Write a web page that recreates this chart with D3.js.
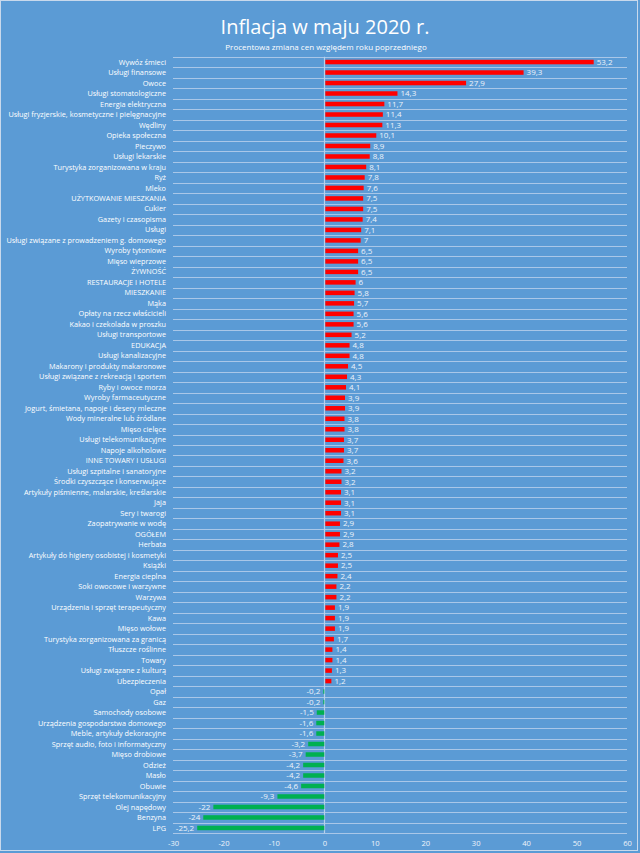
<!DOCTYPE html>
<html>
<head>
<meta charset="utf-8">
<script src="https://cdn.jsdelivr.net/npm/d3@7"></script>
<style>
  body { margin: 0; background: #5b9bd5; }
  svg { display: block; font-family: "Open Sans", "Noto Sans", sans-serif; }
</style>
</head>
<body>
<div id="chart"></div>
<script>
let categories = [
	"Wywóz śmieci", "Usługi finansowe", "Owoce", "Usługi stomatologiczne", "Energia elektryczna",
	"Usługi fryzjerskie, kosmetyczne i pielęgnacyjne", "Wędliny", "Opieka społeczna", "Pieczywo", "Usługi lekarskie",
	"Turystyka zorganizowana w kraju", "Ryż", "Mleko", "UŻYTKOWANIE MIESZKANIA", "Cukier",
	"Gazety i czasopisma", "Usługi", "Usługi związane z prowadzeniem g. domowego", "Wyroby tytoniowe", "Mięso wieprzowe",
	"ŻYWNOŚĆ", "RESTAURACJE I HOTELE", "MIESZKANIE", "Mąka", "Opłaty na rzecz właścicieli",
	"Kakao i czekolada w proszku", "Usługi transportowe", "EDUKACJA", "Usługi kanalizacyjne", "Makarony i produkty makaronowe",
	"Usługi związane z rekreacją i sportem", "Ryby i owoce morza", "Wyroby farmaceutyczne", "Jogurt, śmietana, napoje i desery mleczne", "Wody mineralne lub źródlane",
	"Mięso cielęce", "Usługi telekomunikacyjne", "Napoje alkoholowe", "INNE TOWARY I USŁUGI", "Usługi szpitalne i sanatoryjne",
	"Środki czyszczące i konserwujące", "Artykuły piśmienne, malarskie, kreślarskie", "Jaja", "Sery i twarogi", "Zaopatrywanie w wodę",
	"OGÓŁEM", "Herbata", "Artykuły do higieny osobistej i kosmetyki", "Książki", "Energia cieplna",
	"Soki owocowe i warzywne", "Warzywa", "Urządzenia i sprzęt terapeutyczny", "Kawa", "Mięso wołowe",
	"Turystyka zorganizowana za granicą", "Tłuszcze roślinne", "Towary", "Usługi związane z kulturą", "Ubezpieczenia",
	"Opał", "Gaz", "Samochody osobowe", "Urządzenia gospodarstwa domowego", "Meble, artykuły dekoracyjne",
	"Sprzęt audio, foto i informatyczny", "Mięso drobiowe", "Odzież", "Masło", "Obuwie",
	"Sprzęt telekomunikacyjny", "Olej napędowy", "Benzyna", "LPG"
];

let values = [
	53.2, 39.3, 27.9, 14.3, 11.7,
	11.4, 11.3, 10.1, 8.9, 8.8,
	8.1, 7.8, 7.6, 7.5, 7.5,
	7.4, 7.1, 7, 6.5, 6.5,
	6.5, 6, 5.8, 5.7, 5.6,
	5.6, 5.2, 4.8, 4.8, 4.5,
	4.3, 4.1, 3.9, 3.9, 3.8,
	3.8, 3.7, 3.7, 3.6, 3.2,
	3.2, 3.1, 3.1, 3.1, 2.9,
	2.9, 2.8, 2.5, 2.5, 2.4,
	2.2, 2.2, 1.9, 1.9, 1.9,
	1.7, 1.4, 1.4, 1.3, 1.2,
	-0.2, -0.2, -1.5, -1.6, -1.6,
	-3.2, -3.7, -4.2, -4.2, -4.6,
	-9.3, -22, -24, -25.2
];

let xTicks = [-30, -20, -10, 0, 10, 20, 30, 40, 50, 60];

let width = 640;
let height = 853;
let margin = { top: 56.8, right: 13, bottom: 19.8, left: 173 };

let data = categories.map((c, i) => ({ name: c, value: values[i] }));

let xScale = d3.scaleLinear()
	.domain([-30, 60])
	.range([margin.left, width - margin.right]);

let yScale = d3.scaleBand()
	.domain(categories)
	.range([margin.top, height - margin.bottom])
	.paddingInner(0.57)
	.paddingOuter(0.285);

// bands without padding, used for the gridlines between rows
let rowScale = d3.scaleBand()
	.domain(categories)
	.range([margin.top, height - margin.bottom]);

let fmt = v => String(v).replace('.', ',');

let svg = d3.select('#chart')
	.append('svg')
	.attr('width', width)
	.attr('height', height);

svg.append('rect')
	.attr('x', 0.5).attr('y', 0.5)
	.attr('width', width - 3).attr('height', height - 3)
	.attr('fill', '#5b9bd5')
	.attr('stroke', '#c9d9ec')
	.attr('stroke-width', 1);

// horizontal gridlines at row boundaries
let bounds = categories.map(c => rowScale(c)).concat([height - margin.bottom]);
svg.append('g')
	.selectAll('line')
	.data(bounds)
	.enter()
	.append('line')
	.attr('x1', xScale(-30))
	.attr('x2', xScale(60))
	.attr('y1', d => Math.round(d) + 0.5)
	.attr('y2', d => Math.round(d) + 0.5)
	.attr('stroke', '#a9c7e8')
	.attr('stroke-width', 1);

// zero line
svg.append('line')
	.attr('x1', Math.round(xScale(0)) + 0.5)
	.attr('x2', Math.round(xScale(0)) + 0.5)
	.attr('y1', margin.top)
	.attr('y2', height - margin.bottom)
	.attr('stroke', '#b7d0ec')
	.attr('stroke-width', 1.2);

svg.append('g')
	.selectAll('rect')
	.data(data)
	.enter()
	.append('rect')
	.attr('x', d => xScale(Math.min(0, d.value)) + (d.value < 0 ? 0 : 1))
	.attr('y', d => yScale(d.name))
	.attr('width', d => Math.abs(xScale(d.value) - xScale(0)))
	.attr('height', yScale.bandwidth())
	.attr('fill', d => d.value < 0 ? '#00b050' : '#ff0000');

// value labels
svg.append('g')
	.selectAll('text')
	.data(data)
	.enter()
	.append('text')
	.attr('x', d => d.value < 0 ? xScale(d.value) - 3 : xScale(d.value) + 4)
	.attr('y', d => rowScale(d.name) + rowScale.bandwidth() / 2)
	.attr('dy', '0.35em')
	.attr('text-anchor', d => d.value < 0 ? 'end' : 'start')
	.attr('fill', '#eef3fa')
	.style('font-size', '8px')
	.text(d => fmt(d.value));

// category labels
svg.append('g')
	.selectAll('text')
	.data(data)
	.enter()
	.append('text')
	.attr('x', margin.left - 7)
	.attr('y', d => rowScale(d.name) + rowScale.bandwidth() / 2)
	.attr('dy', '0.35em')
	.attr('text-anchor', 'end')
	.attr('fill', '#ffffff')
	.style('font-size', '7.3px')
	.text(d => d.name);

// x axis
let xAxis = svg.append('g')
	.attr('transform', `translate(0,${height - margin.bottom})`)
	.call(d3.axisBottom(xScale).tickValues(xTicks).tickSize(0).tickPadding(7).tickFormat(d => d));
xAxis.select('.domain').remove();
xAxis.selectAll('text')
	.attr('fill', '#eef3fa')
	.style('font-size', '7.6px')
	.style('font-family', '"Open Sans", "Noto Sans", sans-serif');

// titles
svg.append('text')
	.attr('x', 325)
	.attr('y', 34)
	.attr('text-anchor', 'middle')
	.attr('fill', '#ffffff')
	.style('font-size', '20px')
	.text('Inflacja w maju 2020 r.');

svg.append('text')
	.attr('x', 326)
	.attr('y', 50)
	.attr('text-anchor', 'middle')
	.attr('fill', '#ffffff')
	.style('font-size', '8px')
	.text('Procentowa zmiana cen względem roku poprzedniego');
</script>
</body>
</html>
